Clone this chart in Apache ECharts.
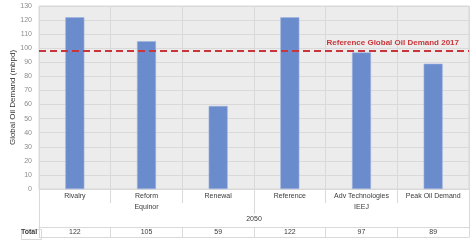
<!DOCTYPE html>
<html><head><meta charset="utf-8">
<script src="https://cdn.jsdelivr.net/npm/echarts@6/dist/echarts.min.js"></script>
<style>html,body{margin:0;padding:0;background:#fff}#c{width:473px;height:240px}</style>
</head><body><div id="c"></div>
<script>
var categories = ['Rivalry','Reform','Renewal','Reference','Adv Technologies','Peak Oil Demand'];
var groups = ['Equinor','IEEJ'];
var period = ['2050'];
var values = [122,105,59,122,97,89];
var refDemand = 98.2;
var refLabel = 'Reference Global Oil Demand 2017';
var yTicks = {min:0, max:130, interval:10};
var rowLabel = 'Total';

var font = 'Liberation Sans, Arial, sans-serif';
var lineC = '#d9d9d9';
var txtC = '#3a3a3a';
var chart = echarts.init(document.getElementById('c'));
chart.setOption({
  animation:false,
  textStyle:{fontFamily:font},
  grid:{left:39,right:4,top:6,bottom:51,show:true,backgroundColor:'#ececec',borderColor:lineC,borderWidth:1,
    containLabel:false,outerBoundsMode:'none'},
  yAxis:{type:'value',min:yTicks.min,max:yTicks.max,interval:yTicks.interval,
    name:'Global Oil Demand (mbpd)',nameLocation:'middle',nameGap:22,nameMoveOverlap:false,
    nameTextStyle:{fontSize:8,color:'#333333',fontFamily:font},
    axisLine:{show:false},axisTick:{show:false},
    axisLabel:{fontSize:7,color:'#8c8c8c',margin:7},
    splitLine:{lineStyle:{color:lineC,width:1}}},
  xAxis:[
    {type:'category',data:categories,position:'bottom',
      axisLine:{show:true,lineStyle:{color:lineC}},
      axisTick:{show:true,length:14,lineStyle:{color:lineC}},
      splitLine:{show:true,lineStyle:{color:lineC}},
      axisLabel:{fontSize:7,color:txtC,margin:4,interval:0}},
    {type:'category',data:groups,position:'bottom',
      axisLine:{show:false},
      axisTick:{show:true,length:25,lineStyle:{color:lineC}},
      axisLabel:{fontSize:7,color:txtC,margin:15,interval:0}},
    {type:'category',data:period,position:'bottom',
      axisLine:{show:false},
      axisTick:{show:true,length:48,lineStyle:{color:lineC}},
      axisLabel:{fontSize:7,color:txtC,margin:27,interval:0}},
    {type:'category',data:categories,position:'bottom',offset:38,
      axisLine:{show:true,lineStyle:{color:lineC}},
      axisTick:{show:true,length:10,lineStyle:{color:lineC}},
      axisLabel:{fontSize:7,color:txtC,margin:2,interval:0,
        formatter:function(v,i){return String(values[i]);}}},
    {type:'category',data:categories,position:'bottom',offset:48,
      axisLine:{show:true,lineStyle:{color:lineC}},
      axisTick:{show:false},axisLabel:{show:false}}
  ],
  graphic:[
    {type:'rect',left:19,top:227,shape:{width:20,height:10},style:{fill:'none',stroke:lineC,lineWidth:1}},
    {type:'text',left:21,top:228.5,style:{text:rowLabel,fontSize:7,fill:txtC,fontWeight:'bold',fontFamily:font}}
  ],
  series:[{type:'bar',data:values,barWidth:19,xAxisIndex:0,
    itemStyle:{color:'#6a8bcc',borderColor:'#9fb4e0',borderWidth:0.6},
    markLine:{silent:true,symbol:['none','none'],
      lineStyle:{color:'#c8363b',type:[7,4],width:2},
      label:{show:true,position:'insideEndTop',formatter:refLabel,color:'#c8363b',fontWeight:'bold',fontSize:8,distance:[10,4],fontFamily:font},
      data:[{yAxis:refDemand}]}}]
});
</script></body></html>
